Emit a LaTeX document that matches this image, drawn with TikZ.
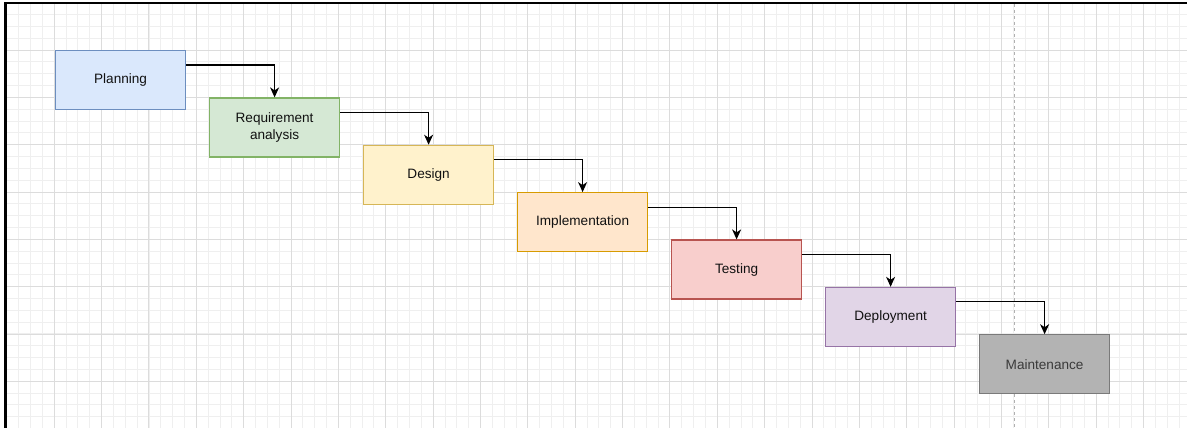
\documentclass[tikz,border=0pt]{standalone}
\usepackage{fontspec}
\setmainfont{Liberation Sans}
\usetikzlibrary{arrows.meta}
\definecolor{gridminor}{HTML}{EFEFEF}
\definecolor{gridmajor}{HTML}{DCDCDC}
\definecolor{bfill}{HTML}{DAE8FC}\definecolor{bline}{HTML}{6C8EBF}
\definecolor{gfill}{HTML}{D5E8D4}\definecolor{gline}{HTML}{82B366}
\definecolor{yfill}{HTML}{FFF2CC}\definecolor{yline}{HTML}{D6B656}
\definecolor{ofill}{HTML}{FFE6CC}\definecolor{oline}{HTML}{D79B00}
\definecolor{rfill}{HTML}{F8CECC}\definecolor{rline}{HTML}{B85450}
\definecolor{pfill}{HTML}{E1D5E7}\definecolor{pline}{HTML}{9673A6}
\definecolor{mfill}{HTML}{B3B3B3}\definecolor{mline}{HTML}{7A7A7A}
\definecolor{mtext}{HTML}{3A3A3A}
\definecolor{txt}{HTML}{111111}
\definecolor{dashc}{HTML}{B0B0B0}
\tikzset{
  phase/.style={draw, line width=1.2pt, minimum width=130pt, minimum height=59pt,
    anchor=north west, inner sep=0pt, align=center, text=txt,
    font=\fontsize{13.6}{17}\selectfont},
  arr/.style={line width=1.1pt, -{Stealth[length=10pt,width=9pt,inset=3pt]}},
}
\begin{document}
\begin{tikzpicture}[x=1pt,y=-1pt]
\useasboundingbox (0,0) rectangle (1187,428);
\fill[white] (0,0) rectangle (1187,428);
% grid
\begin{scope}
\clip (5.5,3) rectangle (1187,428);
\foreach \i in {0,...,100} {
  \draw[gridminor, line width=0.9pt] ({6.9+11.84*\i},0) -- ({6.9+11.84*\i},428);
}
\foreach \j in {0,...,36} {
  \draw[gridminor, line width=0.9pt] (0,{2.7+11.83*\j}) -- (1187,{2.7+11.83*\j});
}
\foreach \i in {0,...,25} {
  \draw[gridmajor, line width=1pt] ({6.9+47.36*\i},0) -- ({6.9+47.36*\i},428);
}
\foreach \j in {0,...,9} {
  \draw[gridmajor, line width=1pt] (0,{2.7+47.33*\j}) -- (1187,{2.7+47.33*\j});
}
\end{scope}
% dashed page divider
\draw[dashc, line width=1pt, dash pattern=on 3pt off 3pt] (1014.3,4) -- (1014.3,428);
% frame
\draw[black, line width=2.2pt] (5.5,428) -- (5.5,3) -- (1187,3);
% phases
\node[phase, fill=bfill, draw=bline] (plan) at (55,50) {Planning};
\node[phase, fill=gfill, draw=gline] (req) at (209,97.4) {Requirement\\analysis};
\node[phase, fill=yfill, draw=yline] (des) at (363,144.7) {Design};
\node[phase, fill=ofill, draw=oline] (imp) at (517,192.1) {Implementation};
\node[phase, fill=rfill, draw=rline] (tst) at (671,239.4) {Testing};
\node[phase, fill=pfill, draw=pline] (dep) at (825,286.8) {Deployment};
\node[phase, fill=mfill, draw=mline, text=mtext] (mnt) at (979,334.2) {Maintenance};
% connectors
\draw[arr] ([yshift=-15pt]plan.north east) -| (req.north);
\draw[arr] ([yshift=-15pt]req.north east) -| (des.north);
\draw[arr] ([yshift=-15pt]des.north east) -| (imp.north);
\draw[arr] ([yshift=-15pt]imp.north east) -| (tst.north);
\draw[arr] ([yshift=-15pt]tst.north east) -| (dep.north);
\draw[arr] ([yshift=-15pt]dep.north east) -| (mnt.north);
\end{tikzpicture}
\end{document}
